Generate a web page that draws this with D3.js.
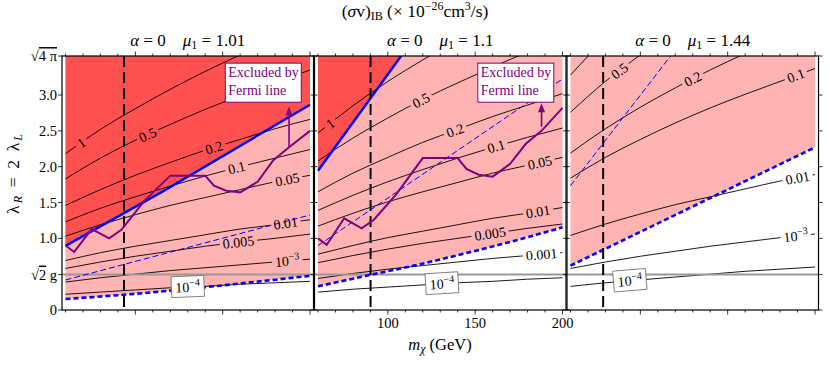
<!DOCTYPE html>
<html><head><meta charset="utf-8">
<script src="https://cdn.jsdelivr.net/npm/d3@7/dist/d3.min.js"></script>
<style>
body{margin:0;background:#fff}
svg{display:block}
text{font-family:"Liberation Serif","Times New Roman",serif;white-space:pre}
</style>
</head><body>
<svg id="c" width="830" height="366" font-family="Liberation Serif, Times New Roman, serif"></svg>
<script>
// ---------------- data ----------------
const massGrid = [60, 80, 100, 120, 140, 160, 180, 200];
const muValues = ["1.01", "1.1", "1.44"];

const p1Levels = ["1", "0.5", "0.2", "0.1", "0.05", "0.01", "0.005", "10^-3", "10^-4"];
const p1Contours = [
  [2.18, 2.52, 2.81, 3.08, 3.33, 3.56, 3.78, 3.98],
  [1.83, 2.12, 2.37, 2.59, 2.80, 2.99, 3.17, 3.35],
  [1.46, 1.68, 1.88, 2.06, 2.23, 2.38, 2.53, 2.66],
  [1.23, 1.42, 1.58, 1.73, 1.87, 2.00, 2.12, 2.24],
  [1.03, 1.19, 1.33, 1.46, 1.57, 1.68, 1.79, 1.88],
  [0.69, 0.80, 0.89, 0.97, 1.05, 1.13, 1.19, 1.26],
  [0.58, 0.67, 0.75, 0.82, 0.89, 0.95, 1.00, 1.06],
  [0.39, 0.45, 0.50, 0.55, 0.59, 0.63, 0.67, 0.71],
  [0.22, 0.25, 0.28, 0.31, 0.33, 0.36, 0.38, 0.40]
];
const p1LabelAt = [69, 107, 145, 158, 187, 186, 159, 187, 130];

const p2Levels = ["1", "0.5", "0.2", "0.1", "0.05", "0.01", "0.005", "0.001", "10^-4"];
const p2Contours = [
  [2.47, 2.85, 3.19, 3.49, 3.77, 4.03, 4.28, 4.51],
  [2.08, 2.40, 2.68, 2.94, 3.17, 3.39, 3.60, 3.79],
  [1.65, 1.91, 2.13, 2.34, 2.52, 2.70, 2.86, 3.02],
  [1.39, 1.60, 1.79, 1.96, 2.12, 2.27, 2.41, 2.54],
  [1.17, 1.35, 1.51, 1.65, 1.78, 1.91, 2.02, 2.13],
  [0.78, 0.90, 1.01, 1.10, 1.19, 1.28, 1.35, 1.43],
  [0.66, 0.76, 0.85, 0.93, 1.00, 1.07, 1.14, 1.20],
  [0.44, 0.51, 0.57, 0.62, 0.67, 0.72, 0.76, 0.80],
  [0.25, 0.29, 0.32, 0.35, 0.38, 0.40, 0.43, 0.45]
];
const p2LabelAt = [67, 119, 138.5, 162, 187, 186, 158.5, 188, 131];

const p3Levels = ["1", "0.5", "0.2", "0.1", "0.01", "10^-3", "10^-4"];
const p3Contours = [
  [3.28, 3.79, 4.23, 4.64, 5.01, 5.36, 5.68, 5.99],
  [2.76, 3.19, 3.56, 3.90, 4.21, 4.50, 4.78, 5.04],
  [2.19, 2.53, 2.83, 3.10, 3.35, 3.58, 3.80, 4.00],
  [1.84, 2.13, 2.38, 2.61, 2.82, 3.01, 3.19, 3.37],
  [1.04, 1.20, 1.34, 1.47, 1.58, 1.69, 1.80, 1.89],
  [0.58, 0.67, 0.75, 0.82, 0.89, 0.95, 1.01, 1.06],
  [0.33, 0.38, 0.42, 0.46, 0.50, 0.54, 0.57, 0.60]
];
const p3LabelAt = [null, 88, 130, 189, 190, 189, 94];

// Fermi line limit (purple)
const fermiMass = [60, 65, 75, 85, 92, 105, 120, 140, 145, 152, 160, 170, 179, 188, 200];
const p1Fermi = [0.90, 0.81, 1.13, 1.00, 1.12, 1.52, 1.875, 1.875, 1.735, 1.665, 1.642, 1.79, 2.09, 2.27, 2.50];
const p2Fermi = [1.00, 0.91, 1.28, 1.14, 1.26, 1.62, 2.12, 2.12, 1.968, 1.888, 1.861, 2.04, 2.32, 2.50, 2.82];

// solid blue boundary of the dark red region
const p1BlueMass = [60, 115, 200];
const p1Blue = [0.895, 1.645, 2.865];
const p2BlueMass = [60, 110];
const p2Blue = [1.944, 3.626];

// thin blue dashed line
const p1ThinMass = [60, 200], p1Thin = [0.419, 1.326];
const p2ThinMass = [60, 200], p2Thin = [0.898, 3.224];
const p3ThinMass = [60, 120], p3Thin = [1.735, 3.63];

// thick blue dashed line (lower edge of the pink region)
const p1ThickMass = [60, 80, 100, 120, 140, 160, 180, 200];
const p1Thick = [0.153, 0.188, 0.226, 0.27, 0.318, 0.37, 0.423, 0.477];
const p2ThickMass = [60, 90, 115, 140, 170, 200];
const p2Thick = [0.33, 0.49, 0.62, 0.765, 0.95, 1.154];
const p3ThickMass = [60, 200];
const p3Thick = [0.619, 2.27];

// vertical dashed line (GeV)
const vLineMass = [93.5, 90.1, 78.7];
// sqrt(2) g horizontal line
const gLine = 0.495;
// Fermi arrows [mass, from, to]
const p1Arrow = [188, 2.28, 2.84];
const p2Arrow = [188, 2.56, 2.885];
// annotation box [m0, m1, lam0, lam1]
const fermiBox = [151.5, 195, 2.9, 3.445];
const fermiBoxText = ["Excluded by", "Fermi line"];

const xTickLabels = [100, 150, 200];
const yTickVals = [0, 0.495, 1, 1.5, 2, 2.5, 3, Math.sqrt(4 * Math.PI)];
const yTickLabels = ["0", "√2 g", "1.0", "1.5", "2.0", "2.5", "3.0", "√4π"];

// ---------------- layout ----------------
const svg = d3.select("#c");
const plotTop = 56, plotBottom = 310;
const panelLeft0 = 62, panelStep = 252.5, panelW = 251.5;
const y = d3.scaleLinear().domain([0, Math.sqrt(4 * Math.PI)]).range([plotBottom, plotTop]);
const RED = "#ff5050", PINK = "#ffb3b3", BLUE = "#0000ff", PURPLE = "#800080";

const panels = [
  {levels: p1Levels, contours: p1Contours, labelAt: p1LabelAt, fermi: p1Fermi,
   blue: [p1BlueMass, p1Blue], thin: [p1ThinMass, p1Thin], thick: [p1ThickMass, p1Thick], arrow: p1Arrow, box: true},
  {levels: p2Levels, contours: p2Contours, labelAt: p2LabelAt, fermi: p2Fermi,
   blue: [p2BlueMass, p2Blue], thin: [p2ThinMass, p2Thin], thick: [p2ThickMass, p2Thick], arrow: p2Arrow, box: true},
  {levels: p3Levels, contours: p3Contours, labelAt: p3LabelAt, fermi: null,
   blue: null, thin: [p3ThinMass, p3Thin], thick: [p3ThickMass, p3Thick], arrow: null, box: false}
];

const defs = svg.append("defs");
const zip = (a, b) => a.map((v, i) => [v, b[i]]);
const interp = (ms, vs) => d3.scaleLinear().domain(ms).range(vs);

function addLabelText(t, label, size) {
  const m = label.match(/^10\^(.+)$/);
  if (m) {
    t.append("tspan").text("10");
    t.append("tspan").attr("dy", -size * 0.42).attr("font-size", size * 0.72).text(m[1].replace("-", "−"));
  } else {
    t.text(label);
  }
}

panels.forEach((P, i) => {
  const left = panelLeft0 + i * panelStep;
  const x = d3.scaleLinear().domain([58, 202]).range([left, left + panelW]);
  const line = d3.line().x(d => x(d[0])).y(d => y(d[1]));
  const curve = d3.line().x(d => x(d[0])).y(d => y(d[1])).curve(d3.curveMonotoneX);

  defs.append("clipPath").attr("id", "clip" + i).append("rect")
    .attr("x", left).attr("y", plotTop).attr("width", panelW).attr("height", plotBottom - plotTop);

  const g = svg.append("g").attr("clip-path", `url(#clip${i})`);

  // pink region
  const thickPts = zip(P.thick[0], P.thick[1]);
  g.append("path").attr("fill", PINK)
    .attr("d", line(thickPts.concat([[200, 10], [60, 10]])) + "Z");
  // dark red region
  if (P.blue) {
    const bp = zip(P.blue[0], P.blue[1]);
    const lastM = P.blue[0][P.blue[0].length - 1];
    g.append("path").attr("fill", RED)
      .attr("d", line(bp.concat([[lastM, 10], [60, 10]])) + "Z");
  }

  // contour labels + mask
  const mask = defs.append("mask").attr("id", "mask" + i)
    .attr("maskUnits", "userSpaceOnUse").attr("x", 0).attr("y", 0).attr("width", 830).attr("height", 366);
  mask.append("rect").attr("x", 0).attr("y", 0).attr("width", 830).attr("height", 366).attr("fill", "#fff");

  const cg = g.append("g").attr("mask", `url(#mask${i})`);
  const lg = g.append("g");
  const boxLayer = svg.append("g");

  P.contours.forEach((vals, k) => {
    cg.append("path").attr("fill", "none").attr("stroke", "#000").attr("stroke-width", 0.9)
      .attr("d", curve(zip(massGrid, vals)));
    const lm = P.labelAt[k];
    if (lm == null) return;
    const f = interp(massGrid, vals);
    const px = x(lm), py = y(f(lm));
    const ang = Math.atan2(y(f(lm + 3)) - y(f(lm - 3)), x(lm + 3) - x(lm - 3)) * 180 / Math.PI;
    const label = P.levels[k];
    const boxed = label === "10^-4";
    const holder = (boxed ? boxLayer : lg).append("g")
      .attr("transform", `translate(${px},${py}) rotate(${ang})`);
    const t = holder.append("text").attr("text-anchor", "middle").attr("dy", "0.35em")
      .attr("font-size", 14).attr("fill", "#000");
    addLabelText(t, label, 14);
    const bb = t.node().getBBox();
    mask.append("rect").attr("transform", `translate(${px},${py}) rotate(${ang})`)
      .attr("x", bb.x - 3).attr("y", bb.y).attr("width", bb.width + 6).attr("height", bb.height)
      .attr("fill", "#000");
    if (boxed) {
      holder.insert("rect", "text").attr("x", bb.x - 4).attr("y", bb.y - 1)
        .attr("width", bb.width + 8).attr("height", bb.height + 3)
        .attr("fill", "#fff").attr("stroke", "#777").attr("stroke-width", 0.9);
    }
  });

  // gray sqrt(2) g line
  g.append("line").attr("x1", left).attr("x2", left + panelW).attr("y1", y(gLine)).attr("y2", y(gLine))
    .attr("stroke", "#999").attr("stroke-width", 2);

  // thin blue dashed
  g.append("path").attr("fill", "none").attr("stroke", BLUE).attr("stroke-width", 1)
    .attr("stroke-dasharray", "6,3").attr("d", line(zip(P.thin[0], P.thin[1])));
  // thick blue dashed
  g.append("path").attr("fill", "none").attr("stroke", BLUE).attr("stroke-width", 2.6)
    .attr("stroke-dasharray", "5,3").attr("d", curve(thickPts));
  // solid blue
  if (P.blue) {
    g.append("path").attr("fill", "none").attr("stroke", BLUE).attr("stroke-width", 2.4)
      .attr("d", line(zip(P.blue[0], P.blue[1])));
  }
  // vertical dashed
  g.append("line").attr("x1", x(vLineMass[i])).attr("x2", x(vLineMass[i]))
    .attr("y1", plotTop).attr("y2", plotBottom)
    .attr("stroke", "#000").attr("stroke-width", 2).attr("stroke-dasharray", "11,5");
  // purple fermi line
  if (P.fermi) {
    g.append("path").attr("fill", "none").attr("stroke", PURPLE).attr("stroke-width", 2)
      .attr("d", line(zip(fermiMass, P.fermi)));
  }
  boxLayer.raise();

  // Fermi box and arrow
  if (P.box) {
    const bx0 = x(fermiBox[0]), bx1 = x(fermiBox[1]), by0 = y(fermiBox[3]), by1 = y(fermiBox[2]);
    svg.append("rect").attr("x", bx0).attr("y", by0).attr("width", bx1 - bx0).attr("height", by1 - by0)
      .attr("fill", "#fff").attr("stroke", PURPLE).attr("stroke-width", 1);
    fermiBoxText.forEach((s, j) => {
      svg.append("text").attr("x", bx0 + 3).attr("y", by0 + 13.5 + j * 18.5)
        .attr("font-size", 14).attr("fill", PURPLE).text(s);
    });
    const ax = x(P.arrow[0]), ay0 = y(P.arrow[1]), ay1 = y(P.arrow[2]);
    svg.append("line").attr("x1", ax).attr("x2", ax).attr("y1", ay0).attr("y2", ay1 + 6)
      .attr("stroke", PURPLE).attr("stroke-width", 1.6);
    svg.append("path").attr("fill", PURPLE)
      .attr("d", `M${ax},${ay1} L${ax - 3.5},${ay1 + 9} L${ax + 3.5},${ay1 + 9} Z`);
  }

  // frame
  svg.append("rect").attr("x", left).attr("y", plotTop).attr("width", panelW).attr("height", plotBottom - plotTop)
    .attr("fill", "none").attr("stroke", "#000").attr("stroke-width", 1.2);

  // ticks
  const tg = svg.append("g").attr("stroke", "#000").attr("stroke-width", 0.8);
  d3.range(60, 201, 10).forEach(m => {
    const len = (m % 50 === 0) ? 4.5 : 2.5;
    tg.append("line").attr("x1", x(m)).attr("x2", x(m)).attr("y1", plotBottom).attr("y2", plotBottom + len);
    tg.append("line").attr("x1", x(m)).attr("x2", x(m)).attr("y1", plotTop).attr("y2", plotTop - len);
  });
  yTickVals.forEach(v => {
    tg.append("line").attr("x1", left).attr("x2", left - 4).attr("y1", y(v)).attr("y2", y(v));
    tg.append("line").attr("x1", left + panelW).attr("x2", left + panelW + 4).attr("y1", y(v)).attr("y2", y(v));
  });

  // x tick labels only under the middle panel
  if (i === 1) {
    xTickLabels.forEach(v => {
      svg.append("text").attr("x", x(v)).attr("y", 328).attr("text-anchor", "middle")
        .attr("font-size", 14.5).text(v);
    });
  }

  // panel title
  const tt = svg.append("text").attr("x", left + panelW / 2).attr("y", 46).attr("text-anchor", "middle")
    .attr("font-size", 17);
  tt.append("tspan").attr("font-style", "italic").text("α");
  tt.append("tspan").text(" = 0    ");
  tt.append("tspan").attr("font-style", "italic").text("μ");
  tt.append("tspan").attr("font-size", 12).attr("dy", 3).text("1");
  tt.append("tspan").attr("dy", -3).text(" = " + muValues[i]);
});

// y tick labels
yTickVals.forEach((v, k) => {
  const lab = yTickLabels[k];
  const t = svg.append("text").attr("x", 57).attr("y", y(v)).attr("dy", "0.35em")
    .attr("text-anchor", "end").attr("font-size", 14.5);
  if (lab === "√4π") {
    t.append("tspan").text("√");
    t.append("tspan").attr("text-decoration", "overline").text("4 π");
  } else if (lab === "√2 g") {
    t.append("tspan").text("√");
    t.append("tspan").attr("text-decoration", "overline").text("2");
    t.append("tspan").text(" g");
  } else {
    t.text(lab);
  }
});

// main title
const mt = svg.append("text").attr("x", 415).attr("y", 17).attr("text-anchor", "middle").attr("font-size", 17.5);
mt.append("tspan").text("(");
mt.append("tspan").attr("font-style", "italic").text("σ");
mt.append("tspan").text("v)");
mt.append("tspan").attr("font-size", 12).attr("dy", 3).text("IB");
mt.append("tspan").attr("dy", -3).text(" (× 10");
mt.append("tspan").attr("font-size", 12).attr("dy", -7).text("−26");
mt.append("tspan").attr("dy", 7).text("cm");
mt.append("tspan").attr("font-size", 12).attr("dy", -7).text("3");
mt.append("tspan").attr("dy", 7).text("/s)");

// x axis title
const xt = svg.append("text").attr("x", 440).attr("y", 350).attr("text-anchor", "middle").attr("font-size", 16.5);
xt.append("tspan").attr("font-style", "italic").text("m");
xt.append("tspan").attr("font-style", "italic").attr("font-size", 12).attr("dy", 3).text("χ");
xt.append("tspan").attr("dy", -3).text(" (GeV)");

// y axis title
const yt = svg.append("text").attr("transform", "translate(19,174) rotate(-90)").attr("text-anchor", "middle")
  .attr("font-size", 17.5).attr("textLength", 80).attr("lengthAdjust", "spacing");
yt.append("tspan").text("λ");
yt.append("tspan").attr("font-style", "italic").attr("font-size", 12).attr("dy", 3).text("R");
yt.append("tspan").attr("dy", -3).text(" = 2 λ");
yt.append("tspan").attr("font-style", "italic").attr("font-size", 12).attr("dy", 3).text("L");
</script>
</body></html>
